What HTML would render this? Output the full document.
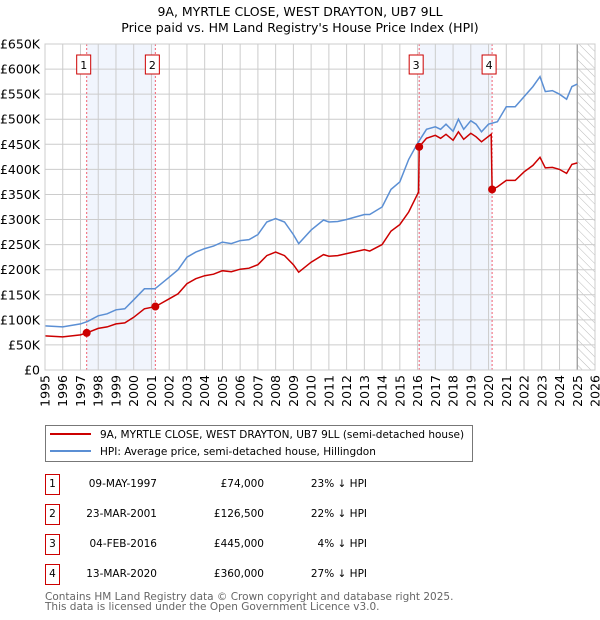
<!DOCTYPE html>
<html><head><meta charset="utf-8"><style>
body{margin:0;background:#fff;font-family:"Liberation Sans","DejaVu Sans",sans-serif;}
#wrap{position:relative;width:600px;height:620px;overflow:hidden;}
svg text{font-family:"DejaVu Sans","Liberation Sans",sans-serif;}
</style></head><body>
<div id="wrap">
<svg id="chart" width="600" height="620"></svg>
</div>
<script>
const hpiYears=[1995,1995.5,1996,1996.5,1997,1997.4,1998,1998.5,1999,1999.5,2000,2000.6,2001.2,2002,2002.5,2003,2003.5,2004,2004.5,2005,2005.5,2006,2006.5,2007,2007.5,2008,2008.5,2009,2009.3,2010,2010.7,2011,2011.5,2012,2012.5,2013,2013.3,2014,2014.5,2015,2015.5,2016,2016.5,2017,2017.3,2017.6,2018,2018.3,2018.6,2019,2019.3,2019.6,2020,2020.5,2021,2021.5,2022,2022.5,2022.9,2023.2,2023.6,2024,2024.4,2024.7,2025];
const hpiValues=[88,87,86,89,92,97,108,112,120,122,140,162,162,185,200,225,235,242,247,255,252,258,260,270,295,302,295,270,252,279,299,295,296,300,305,310,310,325,360,375,420,452,480,485,480,490,476,500,480,497,490,475,490,495,525,525,545,565,585,555,557,550,540,565,570];
const pricePaidYears=[1995,1995.5,1996,1996.5,1997,1997.35,1998,1998.5,1999,1999.5,2000,2000.6,2001.22,2002,2002.5,2003,2003.5,2004,2004.5,2005,2005.5,2006,2006.5,2007,2007.5,2008,2008.5,2009,2009.3,2010,2010.7,2011,2011.5,2012,2012.5,2013,2013.3,2014,2014.5,2015,2015.5,2016.06,2016.09,2016.5,2017,2017.3,2017.6,2018,2018.3,2018.6,2019,2019.3,2019.6,2020.15,2020.2,2020.5,2021,2021.5,2022,2022.5,2022.9,2023.2,2023.6,2024,2024.4,2024.7,2025];
const pricePaidValues=[68,67,66,68,70,74,83,86,92,94,105,122,126.5,142,152,172,182,188,191,198,196,201,203,210,228,235,228,210,195,215,230,227,228,232,236,240,237,250,277,290,315,355,445,462,468,462,470,458,475,460,472,465,455,470,360,365,378,378,395,408,424,403,404,400,392,410,413];
const saleYears=[1997.35,2001.22,2016.09,2020.2];
const saleValues=[74,126.5,445,360];
const saleLabels=["1","2","3","4"];
const yTicks=[0,50,100,150,200,250,300,350,400,450,500,550,600,650];
const yTickLabels=["£0","£50K","£100K","£150K","£200K","£250K","£300K","£350K","£400K","£450K","£500K","£550K","£600K","£650K"];
const xTicks=[1995,1996,1997,1998,1999,2000,2001,2002,2003,2004,2005,2006,2007,2008,2009,2010,2011,2012,2013,2014,2015,2016,2017,2018,2019,2020,2021,2022,2023,2024,2025,2026];

const NS="http://www.w3.org/2000/svg";
const svg=document.getElementById('chart');
const L=45,R=595,T=44,B=370;
const xS=v=>L+(v-1995)/(2026-1995)*(R-L);
const yS=v=>B-v/650*(B-T);
function mk(tag,attrs,parent){const e=document.createElementNS(NS,tag);for(const k in attrs)e.setAttribute(k,attrs[k]);(parent||svg).appendChild(e);return e;}

const defs=mk('defs',{});
const pat=mk('pattern',{id:'hatch',width:6,height:6,patternUnits:'userSpaceOnUse',patternTransform:'rotate(-45)'},defs);
mk('line',{x1:0,y1:0,x2:0,y2:6,stroke:'#bbb','stroke-width':1},pat);

let t=mk('text',{x:300,y:16,'text-anchor':'middle','font-size':12.5,fill:'#000'});t.textContent="9A, MYRTLE CLOSE, WEST DRAYTON, UB7 9LL";

t=mk('text',{x:300,y:32,'text-anchor':'middle','font-size':12.5,fill:'#000'});t.textContent="Price paid vs. HM Land Registry's House Price Index (HPI)";


for(let i=0;i<saleYears.length;i+=2){
  const r=mk('rect',{x:xS(saleYears[i]),y:T,width:xS(saleYears[i+1])-xS(saleYears[i]),height:B-T,fill:'#eef3fc',opacity:0.8});
  
  
}
const h=mk('rect',{x:xS(2025),y:T,width:xS(2026)-xS(2025),height:B-T,fill:'url(#hatch)'});



yTicks.forEach((v,i)=>{
  const g=mk('line',{x1:L,x2:R,y1:yS(v),y2:yS(v),stroke:'#ccc','stroke-width':1});
  
  
  const tx=mk('text',{x:L-5,y:yS(v)+4.5,'text-anchor':'end','font-size':12.5,fill:'#000'});
  tx.textContent=yTickLabels[i];
  
  
});
xTicks.forEach(v=>{
  const g=mk('line',{x1:xS(v),x2:xS(v),y1:T,y2:B,stroke:'#ccc','stroke-width':1});
  
  
  const tx=mk('text',{x:0,y:0,'text-anchor':'end','font-size':12.5,fill:'#000',transform:`translate(${xS(v)+4.5},${B+5}) rotate(-90)`});
  tx.textContent=v;
  
  
});
const nl=mk('line',{x1:xS(2025),x2:xS(2025),y1:T,y2:B,stroke:'#999','stroke-width':1.2});



saleYears.forEach(v=>{
  const l=mk('line',{x1:xS(v),x2:xS(v),y1:T,y2:B,stroke:'#f06070','stroke-width':1,'stroke-dasharray':'2,2'});
  
  
});

function path(xs,ys){return xs.map((x,i)=>(i?'L':'M')+xS(x).toFixed(1)+','+yS(ys[i]).toFixed(1)).join('');}
const hp=mk('path',{d:path(hpiYears,hpiValues),fill:'none',stroke:'#5b8fd4','stroke-width':1.5});


const pp=mk('path',{d:path(pricePaidYears,pricePaidValues),fill:'none',stroke:'#cc0000','stroke-width':1.5});



saleYears.forEach((v,i)=>{
  const c=mk('circle',{cx:xS(v),cy:yS(saleValues[i]),r:4,fill:'#cc0000'});
  
  
  const bx=mk('rect',{x:xS(v)-10,y:55,width:14,height:19,fill:'#fff',stroke:'#cc0000','stroke-width':1});
  
  
  const tx=mk('text',{x:xS(v)-3,y:69,'text-anchor':'middle','font-size':11,fill:'#000'});
  tx.textContent=saleLabels[i];
  
  
});
const fr=mk('rect',{x:L,y:T,width:R-L,height:B-T,fill:'none',stroke:'#ccc'});



const lg=mk('g',{});


mk('rect',{x:45.5,y:425.5,width:427,height:36,fill:'#fff',stroke:'#777'},lg);
mk('line',{x1:50,x2:91,y1:434,y2:434,stroke:'#cc0000','stroke-width':2},lg);
mk('line',{x1:50,x2:91,y1:451,y2:451,stroke:'#5b8fd4','stroke-width':2},lg);
t=mk('text',{x:100,y:438,'font-size':10.5,fill:'#000'},lg);t.textContent="9A, MYRTLE CLOSE, WEST DRAYTON, UB7 9LL (semi-detached house)";

t=mk('text',{x:100,y:455,'font-size':10.5,fill:'#000'},lg);t.textContent="HPI: Average price, semi-detached house, Hillingdon";


const dates=["09-MAY-1997","23-MAR-2001","04-FEB-2016","13-MAR-2020"];
const prices=["£74,000","£126,500","£445,000","£360,000"];
const diffs=["23% ↓ HPI","22% ↓ HPI","4% ↓ HPI","27% ↓ HPI"];
dates.forEach((d,i)=>{
  const y=487+i*30;
  const g=mk('g',{});
  
  
  mk('rect',{x:45.5,y:y-12.5,width:14,height:20,fill:'#fff',stroke:'#cc0000'},g);
  let a=mk('text',{x:52.5,y:y,'text-anchor':'middle','font-size':10.5,fill:'#000'},g);a.textContent=saleLabels[i];
  a=mk('text',{x:157,y:y,'text-anchor':'end','font-size':10.5,fill:'#000'},g);a.textContent=d;
  a=mk('text',{x:264,y:y,'text-anchor':'end','font-size':10.5,fill:'#000'},g);a.textContent=prices[i];
  a=mk('text',{x:367,y:y,'text-anchor':'end','font-size':10.5,fill:'#000'},g);a.textContent=diffs[i];
});
t=mk('text',{x:45,y:600,'font-size':10.5,fill:'#666'});t.textContent="Contains HM Land Registry data © Crown copyright and database right 2025.";

t=mk('text',{x:45,y:610,'font-size':10.5,fill:'#666'});t.textContent="This data is licensed under the Open Government Licence v3.0.";

</script>
</body></html>
